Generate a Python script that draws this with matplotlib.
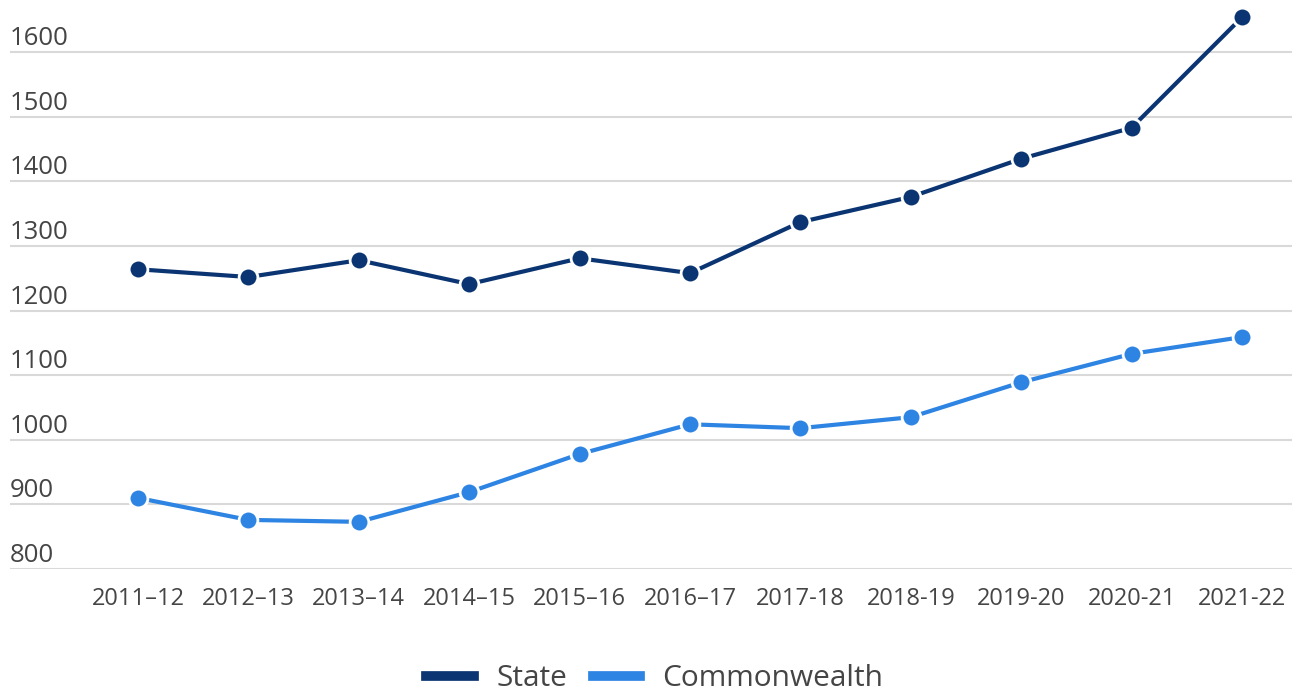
import matplotlib
matplotlib.use("Agg")
import matplotlib.pyplot as plt
from matplotlib.lines import Line2D
import matplotlib.transforms as mtransforms

years = ["2011\u201312", "2012\u201313", "2013\u201314", "2014\u201315", "2015\u201316",
         "2016\u201317", "2017-18", "2018-19", "2019-20", "2020-21", "2021-22"]
state = [1264, 1252, 1278, 1241, 1281, 1258, 1337, 1376, 1435, 1483, 1654]
commonwealth = [910, 876, 873, 919, 978, 1024, 1018, 1035, 1089, 1133, 1159]
yticks = [800, 900, 1000, 1100, 1200, 1300, 1400, 1500, 1600]

STATE_C = "#0b3572"
COMM_C = "#2e84e2"
TEXT_C = "#454545"

plt.rcParams['font.family'] = ['Open Sans', 'DejaVu Sans']

W, H = 1292, 696
fig = plt.figure(figsize=(W / 100, H / 100), dpi=100)
ax = fig.add_axes([10 / W, (H - 569) / H, (W - 10) / W, 569 / H])

x = list(range(len(years)))
for vals, c, lab in [(state, STATE_C, "State"), (commonwealth, COMM_C, "Commonwealth")]:
    ax.plot(x, vals, color=c, lw=3, marker='o', markersize=13.5,
            markeredgecolor='white', markeredgewidth=2, label=lab, zorder=3)

ax.set_ylim(800, 800 + 569 / 0.646)
ax.set_xlim(-128 / 110.4, (W - 138) / 110.4)

for yv in yticks:
    ax.axhline(yv, color="#d9d9d9", lw=1.5, zorder=1)

trans = mtransforms.blended_transform_factory(ax.transAxes, ax.transData)
offset = mtransforms.ScaledTranslation(0, 1 / 100, fig.dpi_scale_trans)
for yv in yticks:
    ax.text(0, yv, str(yv), transform=trans + offset, ha='left', va='bottom',
            fontsize=18.5, color=TEXT_C)

ax.set_yticks([])
ax.set_xticks(x)
ax.set_xticklabels(years, fontsize=17, color=TEXT_C)
ax.tick_params(axis='x', length=0, pad=13)
for s in ax.spines.values():
    s.set_visible(False)

handles = [Line2D([], [], color=STATE_C, lw=7), Line2D([], [], color=COMM_C, lw=7)]
fig.legend(handles, ["State", "Commonwealth"], loc='center',
           bbox_to_anchor=(655 / W, 1 - 679 / H), ncol=2, frameon=False,
           fontsize=21.5, handlelength=1.6, handletextpad=0.74, columnspacing=0.85,
           labelcolor=TEXT_C, borderpad=0)

fig.savefig("out.png", dpi=100)
